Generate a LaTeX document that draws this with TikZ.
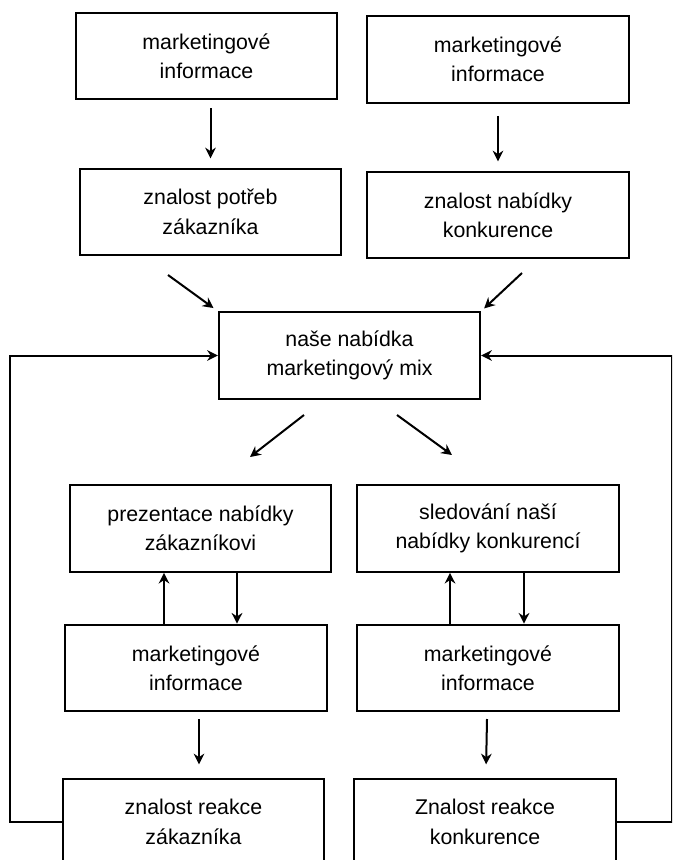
\documentclass[tikz,border=0pt]{standalone}
\usepackage{fontspec}
\setmainfont{Liberation Sans}
\usetikzlibrary{arrows.meta}

\tikzset{
  box/.style={draw, line width=1.5pt, minimum width=196pt, minimum height=65pt,
    inner sep=0pt, align=center, font=\fontsize{16}{22}\selectfont},
  arr/.style={line width=1.5pt, -{Stealth[length=8pt,width=8pt]}}
}

\begin{document}
\begin{tikzpicture}[x=0.75pt, y=-0.75pt]
		\clip (0,0) rectangle (672,860);
		\node[box] (a1) at (206.5,56) {marketingové\\informace};
		\node[box] (b1) at (498,59.5) {marketingové\\informace};
		\node[box] (a2) at (210.5,212) {znalost potřeb\\zákazníka};
		\node[box] (b2) at (498,215) {znalost nabídky\\konkurence};
		\node[box] (mix) at (349.5,355.5) {naše nabídka\\marketingový mix};
		\node[box] (c1) at (200.5,528.5) {prezentace nabídky\\zákazníkovi};
		\node[box] (d1) at (488,528.5) {sledování naší\\nabídky konkurencí};
		\node[box] (c2) at (196,668) {marketingové\\informace};
		\node[box] (d2) at (488,668) {marketingové\\informace};
		\node[box] (c3) at (193.5,822) {znalost reakce\\zákazníka};
		\node[box] (d3) at (485,822) {Znalost reakce\\konkurence};
		\coordinate (inl) at (168,275);
		\coordinate (inr) at (522,273);
		\coordinate (outl) at (250,457);
		\coordinate (outr) at (452,455);
		\draw[arr, shorten <=6pt, shorten >=7pt] (a1.south -| a2) -- (a2);
		\draw[arr, shorten <=9pt, shorten >=7pt] (b1) -- (b2);
		\draw[arr, shorten >=4pt] (inl) -- (mix.north west);
		\draw[arr, shorten >=3pt] (inr) -- (mix.north east);
		\draw[arr] (304,415) -- (outl);
		\draw[arr] (397,415) -- (outr);
		\draw[arr] (c2.north -| 164,0) -- (c1.south -| 164,0);
		\draw[arr] (c1.south -| 237,0) -- (c2.north -| 237,0);
		\draw[arr] (d2.north -| 450,0) -- (d1.south -| 450,0);
		\draw[arr] (d1.south -| 524,0) -- (d2.north -| 524,0);
		\draw[arr, shorten <=5pt, shorten >=10pt] (c2.south -| 199,0) -- (c3.north -| 199,0);
		\draw[arr, shorten <=5pt, shorten >=10pt] (d2) -- (d3);
		\draw[arr] (c3.west) -- ++(-52,0) |- (mix.west);
		\draw[arr] (d3.east) -- ++(55,0) |- (mix.east);
	\end{tikzpicture}
\end{document}
